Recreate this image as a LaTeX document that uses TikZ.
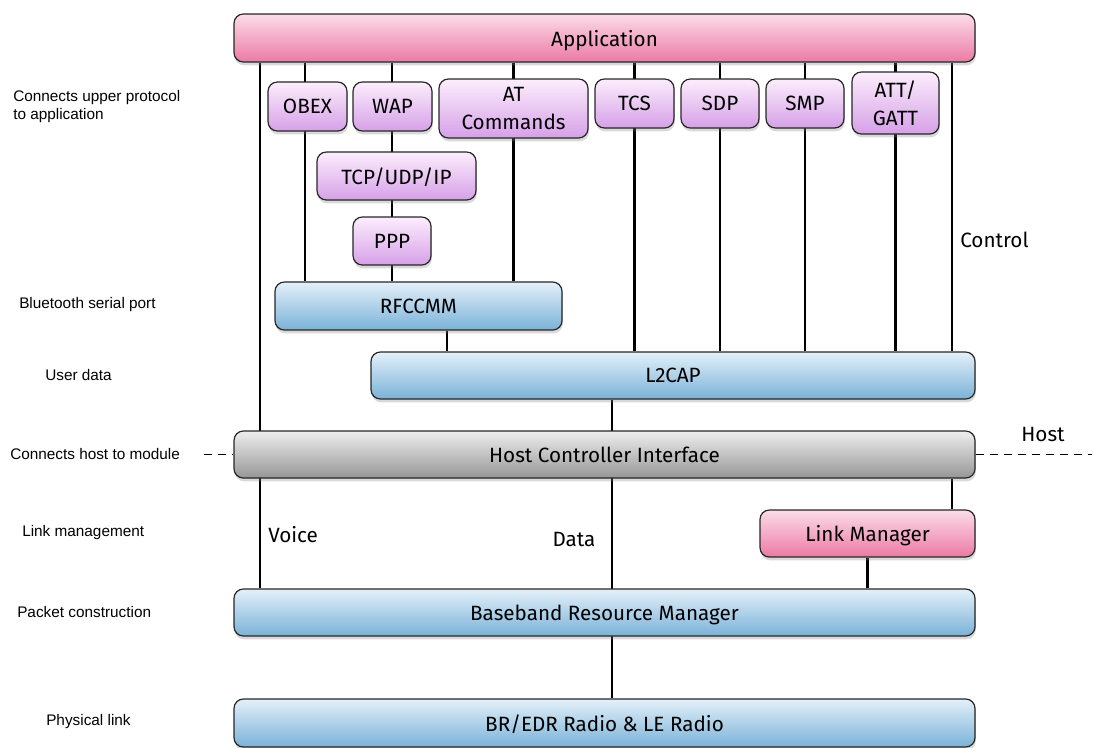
\documentclass[tikz,border=0pt]{standalone}
\usepackage{fontspec}
\setmainfont{Fira Sans}
\newfontfamily\helv{Liberation Sans}
\usepackage{tikz}
\usetikzlibrary{positioning,calc,shadows,backgrounds}
\definecolor{AppTop}{RGB}{251,220,232}
\definecolor{AppBot}{RGB}{236,122,164}
\definecolor{PrtTop}{RGB}{252,238,252}
\definecolor{PrtBot}{RGB}{214,160,232}
\definecolor{BluTop}{RGB}{228,240,249}
\definecolor{BluBot}{RGB}{122,178,216}
\definecolor{GryTop}{RGB}{238,238,238}
\definecolor{GryBot}{RGB}{150,150,150}

\begin{document}
\begin{tikzpicture}[x=0.75pt,y=-0.75pt]
	\tikzset{
		blk/.style={draw=black!85, line width=0.9pt, rounded corners=7pt, inner sep=0pt,
			align=center, font=\fontsize{15.5}{21}\selectfont, text depth=0pt,
			drop shadow={shadow xshift=0.6pt, shadow yshift=-2.5pt, opacity=0.3}},
		app/.style={blk, top color=AppTop, bottom color=AppBot},
		prt/.style={blk, top color=PrtTop, bottom color=PrtBot},
		blu/.style={blk, top color=BluTop, bottom color=BluBot},
		gry/.style={blk, top color=GryTop, bottom color=GryBot},
		ln/.style={draw=black, line width=1.8pt},
		dsh/.style={draw=black, line width=1.4pt, dash pattern=on 6pt off 4.5pt},
		tg/.style={font=\fontsize{15.5}{17}\selectfont, inner sep=0pt},
		lbl/.style={font=\helv\fontsize{11.5}{14.2}\selectfont, anchor=west, align=left, inner sep=0pt}
	}
	\useasboundingbox (0,0) rectangle (1094,747);
	
	% ======= Stack blocks =======
	\node[app, minimum width=555.75pt, minimum height=36pt] (app) at (604.5,38) {Application};
	\node[prt, minimum width=59.25pt, minimum height=36.75pt] (obex) at (307.5,106.5) {OBEX};
	\node[prt, minimum width=59.25pt, minimum height=36.75pt] (wap) at (392.5,106.5) {WAP};
	\node[prt, minimum width=111.75pt, minimum height=44.25pt] (atc) at (513.5,108.5) {AT\\Commands};
	\node[prt, minimum width=59.25pt, minimum height=36.75pt] (tcs) at (634.5,103.5) {TCS};
	\node[prt, minimum width=58.5pt, minimum height=36.75pt] (sdp) at (720,103.5) {SDP};
	\node[prt, minimum width=58.5pt, minimum height=36.75pt] (smp) at (805,103.5) {SMP};
	\node[prt, minimum width=65.25pt, minimum height=46.5pt] (att) at (895.5,103) {ATT/\\GATT};
	\node[prt, minimum width=119.25pt, minimum height=36pt] (tcp) at (396.5,176) {TCP/UDP/IP};
	\node[prt, minimum width=58.5pt, minimum height=36pt] (ppp) at (392,241) {PPP};
	\node[blu, minimum width=215.25pt, minimum height=36pt] (rfc) at (418.5,306) {RFCCMM};
	\node[blu, minimum width=453pt, minimum height=35.25pt] (l2cap) at (673,375.5) {L2CAP};
	\node[gry, minimum width=555.75pt, minimum height=35.25pt] (hci) at (604.5,454.5) {Host Controller Interface};
	\node[app, minimum width=161.25pt, minimum height=35.25pt] (lm) at (867.5,533.5) {Link Manager};
	\node[blu, minimum width=555.75pt, minimum height=35.25pt] (bb) at (604.5,612.5) {Baseband Resource Manager};
	\node[blu, minimum width=555.75pt, minimum height=36pt] (radio) at (604.5,723) {BR/EDR Radio \& LE Radio};
	
	% ======= Links between blocks =======
	\coordinate (vv) at (260,0);
	\coordinate (ob) at (305,0);
	\coordinate (rd) at (447,0);
	\coordinate (dt) at (612,0);
	\coordinate (ct) at (952,0);
	\begin{scope}[on background layer]
		\draw[ln] (vv |- app.south) -- (vv |- bb.north);
		\draw[ln] (ob |- app.south) -- (ob |- rfc.north);
		\draw[ln] (ppp |- app.south) -- (ppp |- rfc.north);
		\draw[ln] (atc |- app.south) -- (atc |- rfc.north);
		\draw[ln] (rd |- rfc.south) -- (rd |- l2cap.north);
		\foreach \n in {tcs,sdp,smp,att}
			\draw[ln] (\n |- app.south) -- (\n |- l2cap.north);
		\draw[ln] (ct |- app.south) -- (ct |- l2cap.north);
		\draw[ln] (ct |- hci.south) -- (ct |- lm.north);
		\draw[ln] (dt |- l2cap.south) -- (dt |- radio.north);
		\draw[ln] (lm.south) -- (lm |- bb.north);
	\end{scope}
	
	% ======= Host / controller boundary =======
	\coordinate (dl) at (204,454.5);
	\coordinate (dr) at (1092,454.5);
	\draw[dsh] (dl) -- (hci.west);
	\draw[dsh] (hci.east) -- (dr);
	
	% ======= Tags =======
	\node[tg, anchor=west] (ctl) at (960,240) {Control};
	\node[tg, anchor=west] (voi) at (268,535) {Voice};
	\node[tg] (dat) at (574,539) {Data};
	\node[tg] (hst) at (1043,434) {Host};
	
	% ======= Layer notes =======
	\node[lbl] (n1) at (13,106.5) {Connects upper protocol\\to application};
	\node[lbl] (n2) at (19,305) {Bluetooth serial port};
	\node[lbl] (n3) at (45,375) {User data};
	\node[lbl] (n4) at (10,454) {Connects host to module};
	\node[lbl] (n5) at (22,533) {Link management};
	\node[lbl] (n6) at (17,612) {Packet construction};
	\node[lbl] (n7) at (46,722) {Physical link};
\end{tikzpicture}
\end{document}
